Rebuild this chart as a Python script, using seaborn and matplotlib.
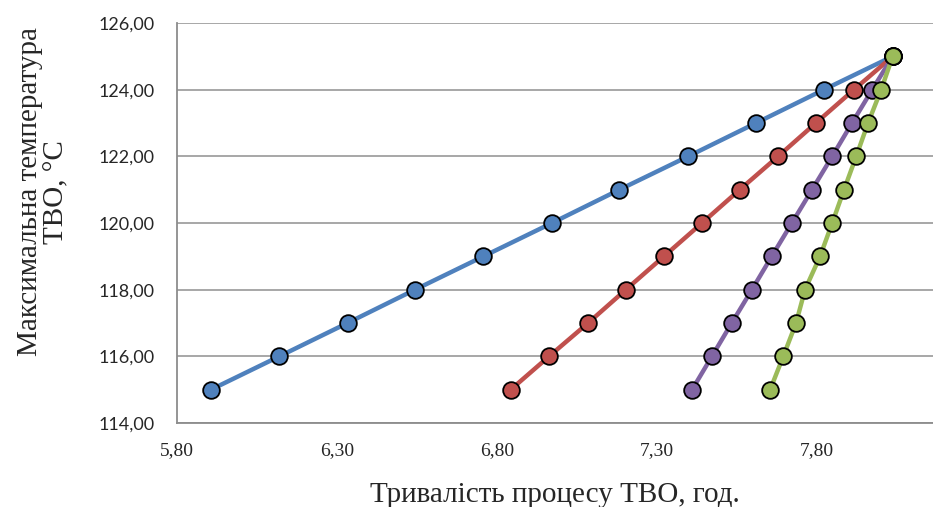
import matplotlib
matplotlib.use("Agg")
import matplotlib.pyplot as plt
from matplotlib.ticker import FuncFormatter
import seaborn as sns
import pandas as pd

temps = [115, 116, 117, 118, 119, 120, 121, 122, 123, 124, 125]
series_1 = [5.906, 6.120, 6.333, 6.544, 6.758, 6.972, 7.183, 7.398, 7.610, 7.822, 8.037]
series_2 = [6.843, 6.963, 7.085, 7.203, 7.322, 7.441, 7.559, 7.679, 7.797, 7.916, 8.037]
series_3 = [7.410, 7.472, 7.534, 7.597, 7.659, 7.722, 7.785, 7.848, 7.910, 7.973, 8.037]
series_4 = [7.654, 7.695, 7.735, 7.763, 7.810, 7.848, 7.885, 7.923, 7.960, 8.001, 8.037]
series_names = ["Ряд1", "Ряд2", "Ряд3", "Ряд4"]
colors = ["#4F81BD", "#C0504D", "#8064A2", "#9BBB59"]
x_ticks = [5.80, 6.30, 6.80, 7.30, 7.80]
y_ticks = [114, 116, 118, 120, 122, 124, 126]

rows = []
for name, xs in zip(series_names, [series_1, series_2, series_3, series_4]):
    for x, t in zip(xs, temps):
        rows.append({"series": name, "duration": x, "temp": t})
df = pd.DataFrame(rows)

sns.set_style("white")
fig = plt.figure(figsize=(9.33, 5.07), dpi=100)
ax = fig.add_axes([177/933, 1 - 423/507, (933 - 177)/933, (423 - 23)/507])

sns.lineplot(data=df, x="duration", y="temp", hue="series", palette=colors,
             sort=False, estimator=None, marker="o", markersize=12,
             markeredgecolor="black", markeredgewidth=1.3, linewidth=3.2,
             legend=False, ax=ax)

ax.set_xlim(5.8, 8.163)
ax.set_ylim(114, 126)
ax.set_xticks(x_ticks)
ax.set_yticks(y_ticks)
fmt = FuncFormatter(lambda v, p: f"{v:.2f}".replace(".", ","))
ax.xaxis.set_major_formatter(fmt)
ax.yaxis.set_major_formatter(fmt)

ax.grid(axis="y", color="#a0a0a0", linewidth=1.3)
ax.set_axisbelow(True)
for s in ["top", "right"]:
    ax.spines[s].set_visible(False)
for s in ["left", "bottom"]:
    ax.spines[s].set_color("#8c8c8c")
    ax.spines[s].set_linewidth(1.3)
ax.tick_params(axis="both", which="major", direction="out", length=6,
               width=1.2, color="#8c8c8c")
ax.tick_params(axis="y", labelsize=13, pad=10)
ax.tick_params(axis="x", labelsize=14, pad=8)
for lab in ax.get_yticklabels():
    lab.set_family("Lato")
for lab in ax.get_xticklabels():
    lab.set_family("Liberation Serif")

ax.set_xlabel("Тривалість процесу ТВО, год.", family="Liberation Serif",
              fontsize=21, labelpad=16)
ax.set_ylabel("Максимальна температура\nТВО, °С", family="Liberation Serif",
              fontsize=21, linespacing=1.05)
ax.yaxis.set_label_coords(-0.142, 0.578)

fig.savefig("out.png", dpi=100)
